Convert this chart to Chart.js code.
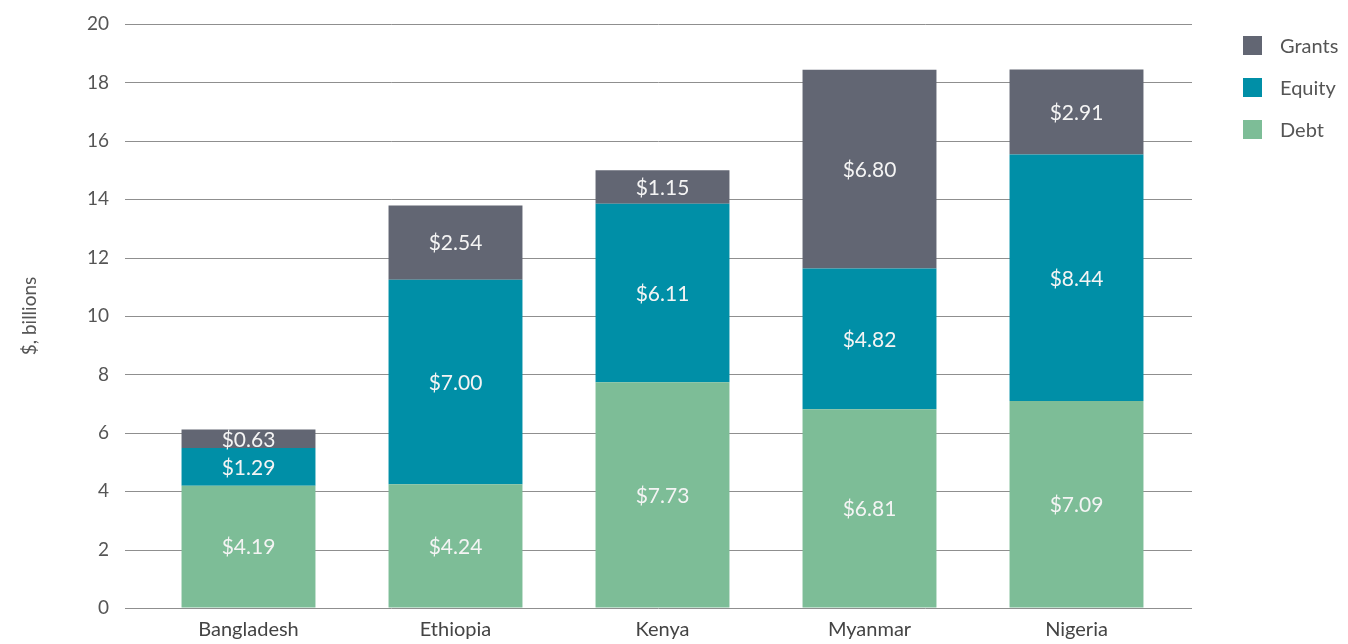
<!DOCTYPE html>
<html>
<head>
<meta charset="utf-8">
<script src="https://cdn.jsdelivr.net/npm/chart.js@4"></script>
<style>
  body { margin: 0; background: #fff; font-family: Lato, sans-serif; }
  #wrap { position: relative; width: 1348px; height: 644px; }
  #legend { position: absolute; left: 1243px; top: 24px; }
  .item { display: flex; align-items: center; height: 42px; color: #555; font-size: 20px; }
  .box { width: 19px; height: 19px; margin-right: 18px; }
</style>
</head>
<body>
<div id="wrap">
  <canvas id="c" width="1348" height="644"></canvas>
  <div id="legend"></div>
</div>
<script>
const countries = ['Bangladesh', 'Ethiopia', 'Kenya', 'Myanmar', 'Nigeria'];
const debt   = [4.19, 4.24, 7.73, 6.81, 7.09];
const equity = [1.29, 7.00, 6.11, 4.82, 8.44];
const grants = [0.63, 2.54, 1.15, 6.80, 2.91];
const yTicks = [0, 2, 4, 6, 8, 10, 12, 14, 16, 18, 20];

const colors = { debt: '#7dbd97', equity: '#008fa7', grants: '#626673' };

// horizontal gridlines a bit wider than the plot area, like the original
const gridPlugin = {
  id: 'grid',
  beforeDatasetsDraw(chart) {
    const ctx = chart.ctx, y = chart.scales.y, a = chart.chartArea;
    ctx.save();
    ctx.strokeStyle = '#8f8f8f';
    ctx.lineWidth = 1;
    yTicks.forEach(v => {
      const py = Math.round(y.getPixelForValue(v)) + 0.5;
      ctx.beginPath();
      ctx.moveTo(a.left - 20, py);
      ctx.lineTo(a.right + 12, py);
      ctx.stroke();
    });
    ctx.restore();
  }
};

// white value labels in the middle of each segment
const valuePlugin = {
  id: 'values',
  afterDatasetsDraw(chart) {
    const ctx = chart.ctx;
    ctx.save();
    ctx.fillStyle = '#f4f4f4';
    ctx.font = '21px Lato';
    ctx.textAlign = 'center';
    ctx.textBaseline = 'middle';
    chart.data.datasets.forEach((ds, i) => {
      chart.getDatasetMeta(i).data.forEach((bar, j) => {
        const mid = (bar.y + bar.base) / 2;
        ctx.fillText('$' + ds.data[j].toFixed(2), bar.x, mid + 1);
      });
    });
    ctx.restore();
  }
};

const chart = new Chart(document.getElementById('c'), {
  type: 'bar',
  data: {
    labels: countries,
    datasets: [
      { label: 'Debt', data: debt, backgroundColor: colors.debt },
      { label: 'Equity', data: equity, backgroundColor: colors.equity },
      { label: 'Grants', data: grants, backgroundColor: colors.grants }
    ]
  },
  options: {
    responsive: false,
    animation: false,
    layout: { padding: { top: 24, right: 168, left: 0, bottom: 0 } },
    datasets: { bar: { categoryPercentage: 1, barPercentage: 0.647 } },
    plugins: { legend: { display: false }, tooltip: { enabled: false } },
    scales: {
      x: {
        stacked: true,
        grid: { display: false, drawTicks: false },
        border: { display: false },
        ticks: { color: '#444', font: { family: 'Lato', size: 20 }, padding: 10 },
        afterFit(s) { s.height = 36; }
      },
      y: {
        stacked: true,
        min: 0, max: 20,
        grid: { color: 'rgba(0,0,0,0)', drawOnChartArea: false, drawTicks: true, tickLength: 28 },
        border: { display: false },
        ticks: { stepSize: 2, color: '#555', font: { family: 'Lato', size: 19 }, padding: 8 },
        title: { display: true, text: '$, billions', color: '#555', font: { family: 'Lato', size: 19 }, padding: { top: 18, bottom: 0 } },
        afterFit(s) { s.width = 145; }
      }
    }
  },
  plugins: [gridPlugin, valuePlugin]
});

// legend, top to bottom: Grants, Equity, Debt
const legend = document.getElementById('legend');
chart.data.datasets.slice().reverse().forEach(ds => {
  const row = document.createElement('div');
  row.className = 'item';
  row.innerHTML = '<span class="box" style="background:' + ds.backgroundColor + '"></span>' + ds.label;
  legend.appendChild(row);
});
</script>
</body>
</html>
